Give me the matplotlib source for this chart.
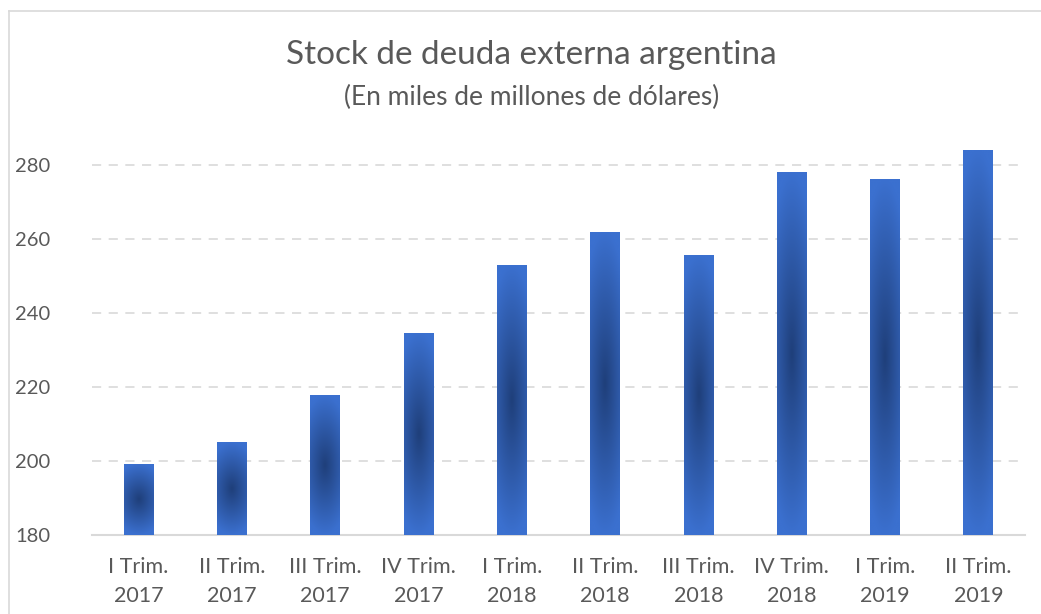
import numpy as np
import matplotlib
matplotlib.use("Agg")
import matplotlib.pyplot as plt
from matplotlib.colors import to_rgb
from matplotlib.lines import Line2D

# Stock de deuda externa, miles de millones de USD
trimestres = ["I Trim.\n2017", "II Trim.\n2017", "III Trim.\n2017", "IV Trim.\n2017",
              "I Trim.\n2018", "II Trim.\n2018", "III Trim.\n2018", "IV Trim.\n2018",
              "I Trim.\n2019", "II Trim.\n2019"]
deuda = [199.2, 205.1, 217.8, 234.6, 253.0, 261.9, 255.7, 278.1, 276.2, 284.1]
y_ticks = [180, 200, 220, 240, 260, 280]

plt.rcParams["font.family"] = ["Lato", "DejaVu Sans"]
gris = "#595959"
claro = np.array(to_rgb("#3b70cf"))
oscuro = np.array(to_rgb("#1f3f7a"))

fig = plt.figure(figsize=(10.41, 6.14), dpi=100)
ax = fig.add_axes([0.0884, 0.1287, 0.8963, 0.6629])

x = np.arange(len(deuda))
bars = ax.bar(x, deuda, width=0.32, bottom=0, color="none", edgecolor="none", zorder=3)

# gradiente desde el centro de cada barra
ny, nx = 200, 40
yy, xx = np.mgrid[-1:1:ny * 1j, -1:1:nx * 1j]
t = np.clip(np.sqrt(0.3 * xx ** 2 + yy ** 2), 0, 1)
img = oscuro + (claro - oscuro) * t[..., None]

base = y_ticks[0]
for b in bars:
    x0 = b.get_x()
    x1 = x0 + b.get_width()
    top = b.get_height()
    im = ax.imshow(img, extent=[x0, x1, base, top], aspect="auto",
                   interpolation="bilinear", zorder=3)
    im.set_clip_path(b)

ax.set_xlim(-0.5, len(deuda) - 0.5)
ax.set_ylim(180, 290)
ax.set_yticks(y_ticks)
ax.set_xticks(x)
ax.set_xticklabels(trimestres, fontsize=15.5, color=gris, linespacing=1.55)
ax.tick_params(axis="y", labelsize=14.5, labelcolor=gris, length=0, pad=30)
ax.tick_params(axis="x", length=0, pad=16)

ax.yaxis.grid(True, color="#d9d9d9", linewidth=1.2, linestyle=(0, (5.5, 4.5)), zorder=0)
ax.set_axisbelow(True)
for s in ["top", "right", "left"]:
    ax.spines[s].set_visible(False)
ax.spines["bottom"].set_color("#d9d9d9")
ax.spines["bottom"].set_linewidth(1.5)

fig.text(0.510, 1 - 55 / 614, "Stock de deuda externa argentina", ha="center", va="center",
         fontsize=24, color=gris)
fig.text(0.511, 1 - 97 / 614, "(En miles de millones de dólares)", ha="center", va="center",
         fontsize=19, color=gris)

# marco del gráfico
fig.add_artist(Line2D([9 / 1041, 9 / 1041], [0, 1 - 11 / 614], color="#d9d9d9", lw=1.2))
fig.add_artist(Line2D([9 / 1041, 1], [1 - 11 / 614, 1 - 11 / 614], color="#d9d9d9", lw=1.2))

fig.savefig("out.png", dpi=100)
